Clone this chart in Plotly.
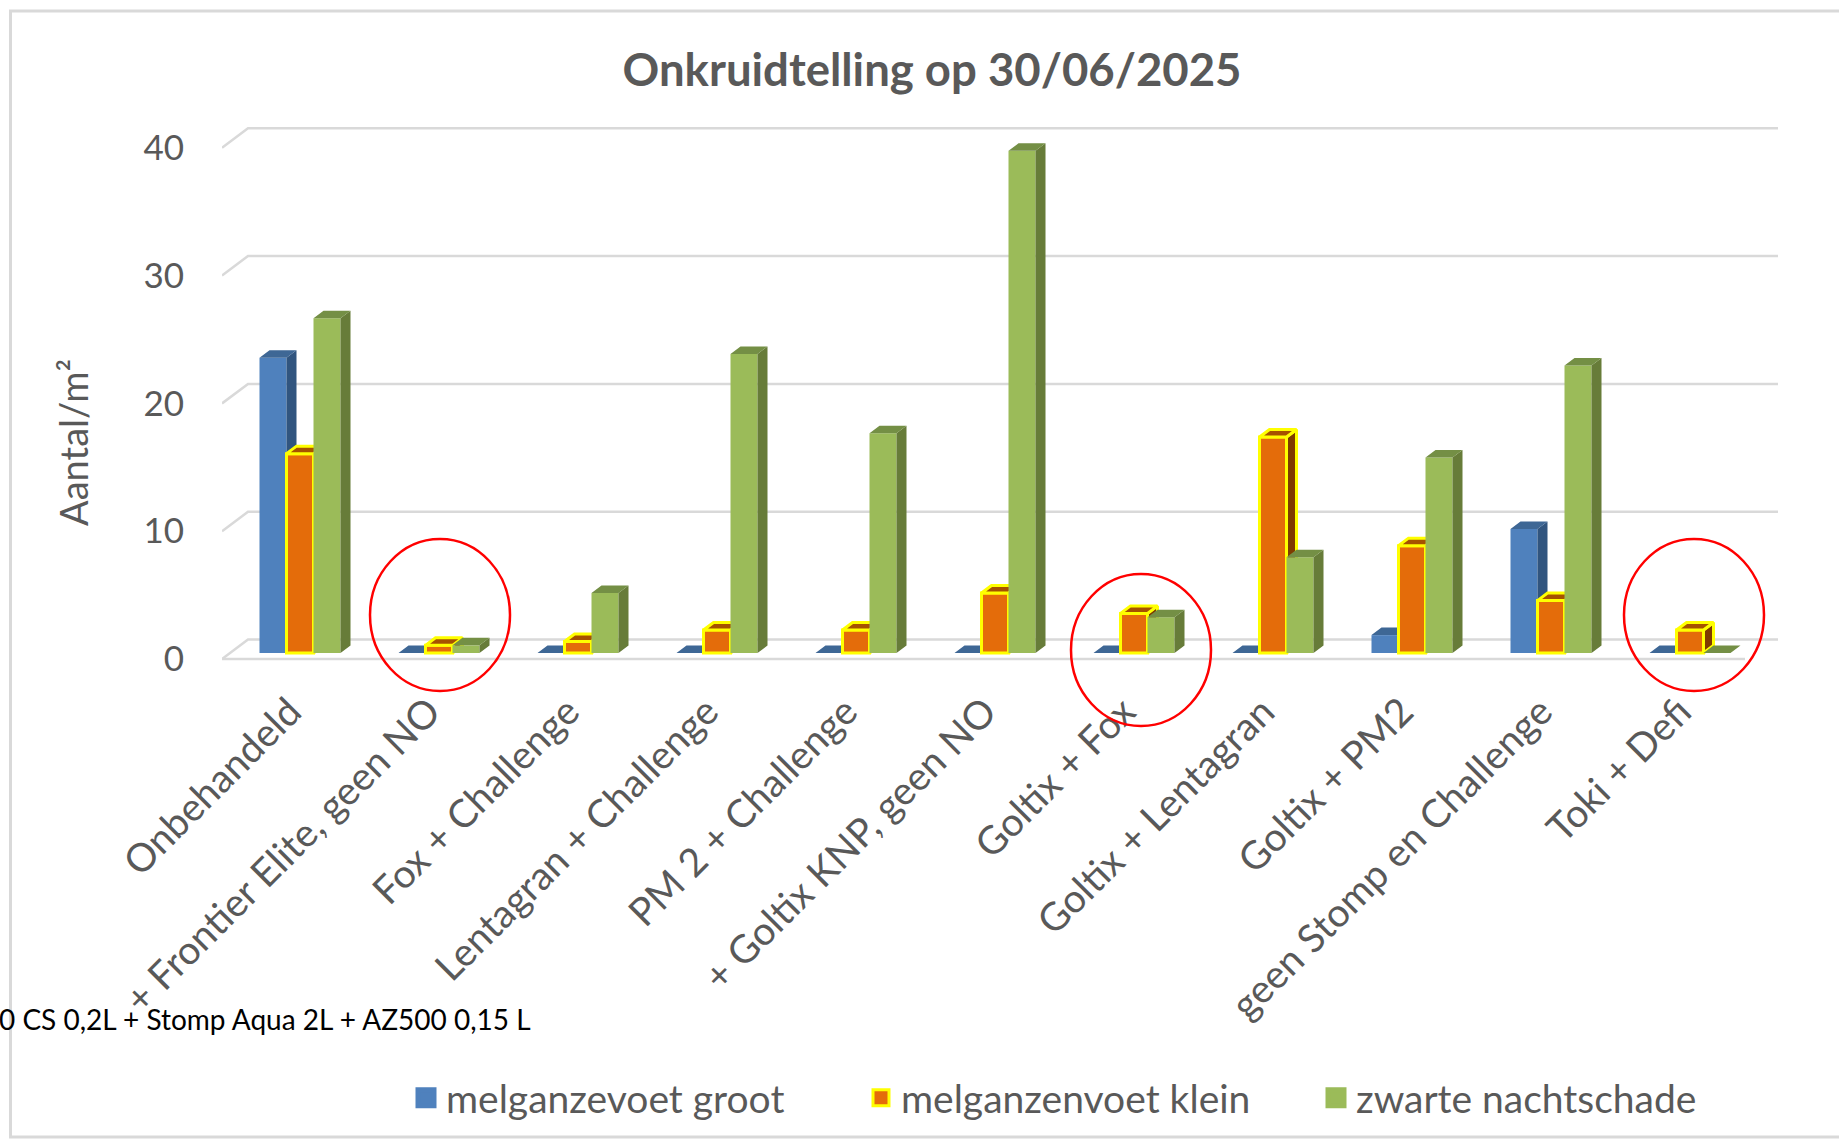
import plotly.graph_objects as go

categories = ["Onbehandeld", "+ Frontier Elite, geen NO", "Fox + Challenge", "Lentagran + Challenge",
              "PM 2 + Challenge", "+ Goltix KNP, geen NO", "Goltix + Fox", "Goltix + Lentagran",
              "Goltix + PM2", "geen Stomp en Challenge", "Toki + Defi"]
groot = [23.1, 0, 0, 0, 0, 0, 0, 0, 1.4, 9.7, 0]
klein = [15.6, 0.6, 0.9, 1.8, 1.8, 4.7, 3.1, 16.9, 8.4, 4.1, 1.8]
nachtschade = [26.2, 0.6, 4.7, 23.4, 17.2, 39.3, 2.8, 7.5, 15.3, 22.5, 0]
y_ticks = [0, 10, 20, 30, 40]

GREY = "#595959"
FONT = "Lato"
W, H = 1839, 1139
PX_X, PX_Y = 139.0, 12.78           # pixels per category, pixels per unit
L, R, T, B = 222, 1778, 100, 680    # plot area in pixels
ORIGIN_X = 300.0
x_range = [(L - ORIGIN_X) / PX_X, (R - ORIGIN_X) / PX_X]
y_range = [(659 - B) / PX_Y, (659 - T) / PX_Y]
WALL_DX, WALL_DY = 26 / PX_X, 19.5 / PX_Y
BAR_W = 27 / PX_X
BAR_DX, BAR_DY = 10 / PX_X, 7.5 / PX_Y
FLOOR = 6 / PX_Y

series = [
    dict(name="melganzevoet groot", v=groot, off=-1.5, face="#4F81BD", side="#31557F", top="#3E6795", line=None),
    dict(name="melganzenvoet klein", v=klein, off=-0.5, face="#E46C0A", side="#7F3B00", top="#A65200", line="#FFFF00"),
    dict(name="zwarte nachtschade", v=nachtschade, off=0.5, face="#9BBB59", side="#677C39", top="#748F45", line=None),
]

fig = go.Figure()

# wall and floor gridlines
gx, gy = [], []
for t in y_ticks:
    gx += [x_range[0], x_range[0] + WALL_DX, x_range[1], None]
    gy += [t, t + WALL_DY, t + WALL_DY, None]
gx += [x_range[0], x_range[1] - 33 / PX_X, None]
gy += [0, 0, None]
fig.add_trace(go.Scatter(x=gx, y=gy, mode="lines", line=dict(color="#D9D9D9", width=2.5),
                         hoverinfo="skip", showlegend=False))

for n, s in enumerate(series):
    ax = str(n + 2)
    xa, ya = "x" + ax, "y" + ax
    sx, sy, tx, ty = [], [], [], []
    for i, v in enumerate(s["v"]):
        x0 = i + s["off"] * BAR_W
        x1 = x0 + BAR_W
        top = v + FLOOR
        sx += [x1, x1 + BAR_DX, x1 + BAR_DX, x1, x1, None]
        sy += [FLOOR, FLOOR + BAR_DY, top + BAR_DY, top, FLOOR, None]
        tx += [x0, x1, x1 + BAR_DX, x0 + BAR_DX, x0, None]
        ty += [top, top, top + BAR_DY, top + BAR_DY, top, None]
    lw = 3 if s["line"] else 0
    lc = s["line"] or s["side"]
    fig.add_trace(go.Scatter(x=sx, y=sy, mode="lines", fill="toself", fillcolor=s["side"],
                             line=dict(color=lc, width=lw), hoverinfo="skip", showlegend=False, xaxis=xa, yaxis=ya))
    fig.add_trace(go.Scatter(x=tx, y=ty, mode="lines", fill="toself", fillcolor=s["top"],
                             line=dict(color=lc, width=lw), hoverinfo="skip", showlegend=False, xaxis=xa, yaxis=ya))
    fig.add_trace(go.Bar(x=list(range(len(categories))), y=s["v"], base=[FLOOR] * len(categories),
                         width=BAR_W, offset=s["off"] * BAR_W, name=s["name"], showlegend=False,
                         marker=dict(color=s["face"], line=dict(color=s["line"] or s["face"], width=lw)),
                         xaxis=xa, yaxis=ya))
    fig.add_trace(go.Scatter(x=[None], y=[None], mode="markers", name=s["name"],
                             marker=dict(symbol="square", size=16, color=s["face"],
                                         line=dict(color=s["line"] or s["face"], width=3 if s["line"] else 5)),
                             xaxis=xa, yaxis=ya))

common = dict(range=x_range, showgrid=False, zeroline=False)
layout_axes = dict(
    xaxis=dict(tickmode="array", tickvals=list(range(len(categories))), ticktext=categories, tickangle=-45,
               tickfont=dict(family=FONT, size=39, color=GREY), showline=False, ticks="",
               ticklabelshift=-10, **common),
    yaxis=dict(range=y_range, tickmode="array", tickvals=y_ticks, showgrid=False, zeroline=False, ticks="",
               tickfont=dict(family=FONT, size=35, color=GREY), ticklabelstandoff=37),
)
for k in (2, 3, 4):
    layout_axes[f"xaxis{k}"] = dict(overlaying="x", visible=False, **common)
    layout_axes[f"yaxis{k}"] = dict(overlaying="y", range=y_range, visible=False, showgrid=False, zeroline=False)

# red hand-drawn ellipses (centre in px, radii in px)
def ell(cx, cy):
    rx, ry = 70, 76
    return dict(type="circle", xref="paper", yref="paper",
                x0=(cx - rx - L) / (R - L), x1=(cx + rx - L) / (R - L),
                y0=(B - cy - ry) / (B - T), y1=(B - cy + ry) / (B - T),
                line=dict(color="#FF0000", width=2.5), fillcolor="rgba(0,0,0,0)", layer="above")

shapes = [ell(440, 615), ell(1141, 650), ell(1694, 615),
          dict(type="rect", xref="paper", yref="paper",
               x0=(10.5 - L) / (R - L), x1=(W + 20 - L) / (R - L),
               y0=(B - 1137) / (B - T), y1=(B - 11) / (B - T),
               line=dict(color="#D9D9D9", width=3), layer="below")]

annotations = [
    dict(text="Aantal/m²", xref="paper", yref="paper", x=(74 - 26 - L) / (R - L), y=(B - 443) / (B - T),
         textangle=-90, showarrow=False, font=dict(family=FONT, size=38, color=GREY)),
    dict(text="0 CS 0,2L + Stomp Aqua 2L + AZ500 0,15 L", xref="paper", yref="paper",
         x=(533 - L) / (R - L), y=(B - 1019) / (B - T), xanchor="right", yanchor="middle",
         showarrow=False, font=dict(family=FONT, size=28, color="#000000")),
]

fig.update_layout(
    width=W, height=H, autosize=False, paper_bgcolor="white", plot_bgcolor="white",
    margin=dict(l=L, r=W - R, t=T, b=H - B, autoexpand=False),
    title=dict(text="<b>Onkruidtelling op 30/06/2025</b>", x=932 / W, y=1 - 70 / H, xanchor="center", yanchor="middle",
               font=dict(family=FONT, size=45.5, color=GREY)),
    barmode="overlay",
    legend=dict(orientation="h", x=(406 - L) / (R - L), xanchor="left", y=(B - 1066) / (B - T), yanchor="top",
                entrywidth=410, entrywidthmode="pixels", font=dict(family=FONT, size=39, color=GREY),
                bgcolor="rgba(0,0,0,0)", traceorder="normal"),
    shapes=shapes, annotations=annotations, **layout_axes,
)

fig.write_html("out.html", config={"displayModeBar": False},
               post_script="document.body.style.margin='0';document.body.style.overflow='hidden';")
